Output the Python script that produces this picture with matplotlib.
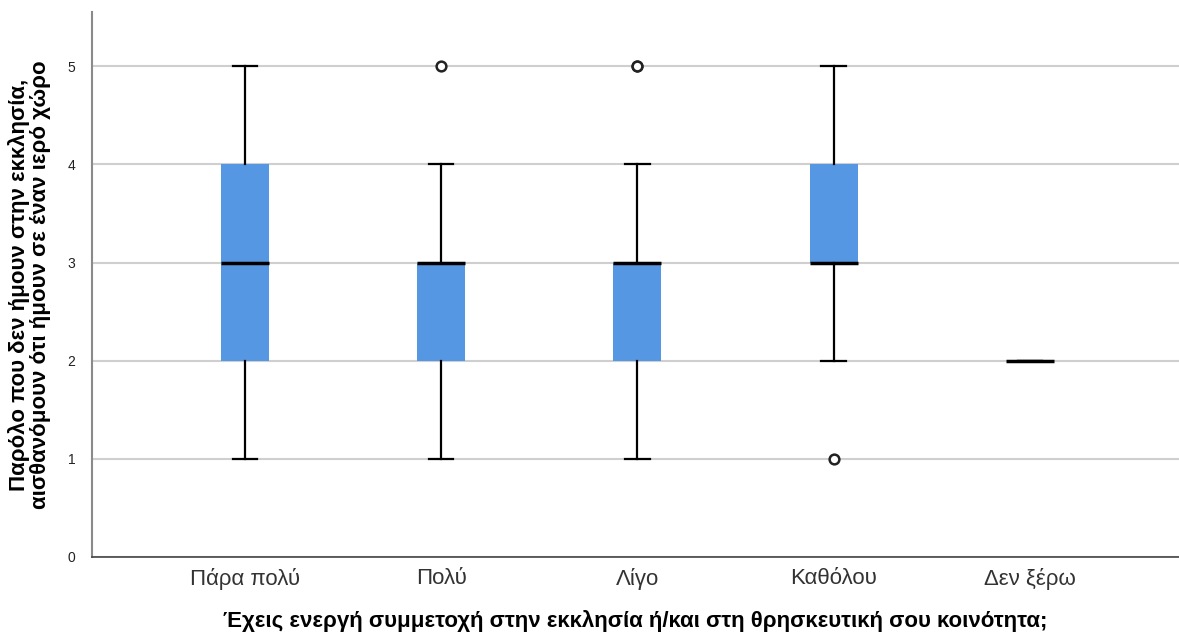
import numpy as np
import matplotlib.pyplot as plt

plt.rcParams['font.family'] = ['Liberation Sans', 'DejaVu Sans']

categories = ['Πάρα πολύ', 'Πολύ', 'Λίγο', 'Καθόλου', 'Δεν ξέρω']
whislo = [1, 1, 1, 2, 2]
q1 = [2, 2, 2, 3, 2]
med = [3, 3, 3, 3, 2]
q3 = [4, 3, 3, 4, 2]
whishi = [5, 4, 4, 5, 2]
fliers = [[], [5], [5, 5], [1], []]

stats = []
for i in range(len(categories)):
    stats.append(dict(whislo=whislo[i], q1=q1[i], med=med[i], q3=q3[i],
                      whishi=whishi[i], fliers=fliers[i], label=categories[i]))

fig = plt.figure(figsize=(11.79, 6.37), dpi=100)
ax = fig.add_axes([0.078, 0.1256, 0.922, 0.855])

pos = np.arange(len(categories))
ax.bxp(stats, positions=pos, widths=0.245, patch_artist=True,
       showcaps=True,
       boxprops=dict(facecolor='#5597e2', edgecolor='#5597e2', linewidth=0),
       medianprops=dict(color='black', linewidth=2.5),
       whiskerprops=dict(color='black', linewidth=1.6),
       capprops=dict(color='black', linewidth=1.6),
       flierprops=dict(marker='o', markerfacecolor='white', markeredgecolor='#222222',
                       markersize=7, markeredgewidth=1.8),
       capwidths=0.125, zorder=3)

ax.set_xlim(-0.78, 4.76)
ax.set_ylim(0, 5.55)
ax.set_yticks([0, 1, 2, 3, 4, 5])
ax.yaxis.grid(True, color='#cfcfcf', linewidth=1.5, zorder=0)
ax.set_axisbelow(True)
ax.tick_params(axis='y', length=0, labelsize=10, pad=12, colors='#222222')
ax.tick_params(axis='x', length=0, labelsize=16, pad=8, colors='#333333')
ax.set_xticks(pos)
ax.set_xticklabels(categories)

for s in ['top', 'right']:
    ax.spines[s].set_visible(False)
ax.spines['left'].set_color('#8a8a8a')
ax.spines['left'].set_linewidth(1.5)
ax.spines['bottom'].set_color('#444444')
ax.spines['bottom'].set_linewidth(1.2)

ax.set_xlabel('Έχεις ενεργή συμμετοχή στην εκκλησία ή/και στη θρησκευτική σου κοινότητα;',
              fontsize=16, fontweight='bold', labelpad=14)
ax.set_ylabel('Παρόλο που δεν ήμουν στην εκκλησία,\nαισθανόμουν ότι ήμουν σε έναν ιερό χώρο',
              fontsize=16, fontweight='bold', labelpad=12, linespacing=1.0)

fig.savefig('out.png', dpi=100, facecolor='white')
